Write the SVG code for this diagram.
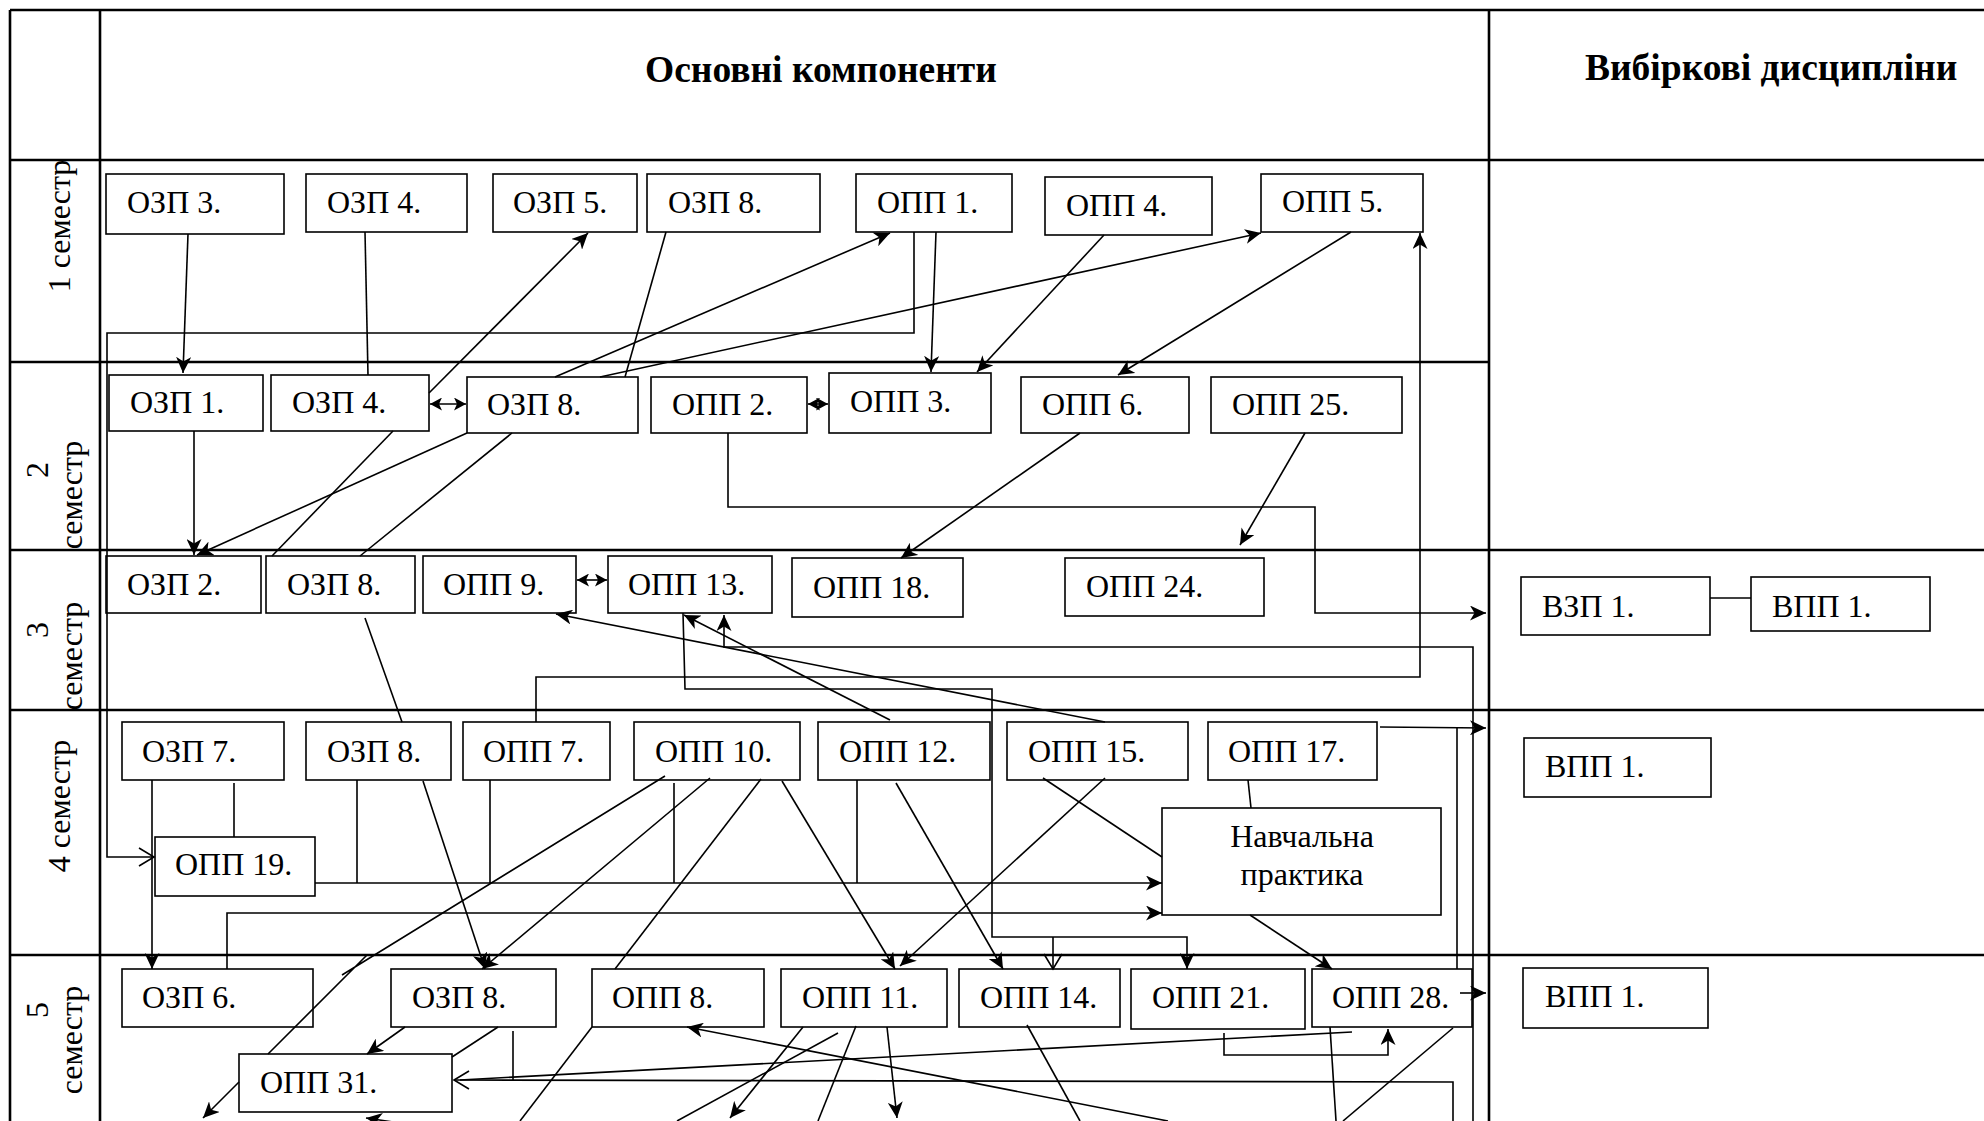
<svg xmlns="http://www.w3.org/2000/svg" width="1984" height="1121" viewBox="0 0 1984 1121">
<style>
.box{fill:#fff;stroke:#000;stroke-width:1.6}
.t{font-family:"Liberation Serif","Times New Roman",serif;font-size:32px;fill:#000}
.h{font-family:"Liberation Serif","Times New Roman",serif;font-size:37.5px;font-weight:bold;fill:#000}
.c{fill:none;stroke:#000;stroke-width:1.6}
.g{fill:none;stroke:#000;stroke-width:2.6}
</style>
<defs>
<marker id="a" markerUnits="userSpaceOnUse" markerWidth="17" markerHeight="15" refX="16" refY="7.5" orient="auto-start-reverse">
<path d="M0,0 L16,7.5 L0,15 L4.5,7.5 z" fill="#000"/>
</marker>
<marker id="s" markerUnits="userSpaceOnUse" markerWidth="13" markerHeight="13" refX="12" refY="6.5" orient="auto-start-reverse">
<path d="M0,0 L12,6.5 L0,13 L3,6.5 z" fill="#000"/>
</marker>
<marker id="o" markerUnits="userSpaceOnUse" markerWidth="18" markerHeight="20" refX="16" refY="10" orient="auto">
<path d="M1,1 L16,10 L1,19" fill="none" stroke="#000" stroke-width="1.6"/>
</marker>
</defs>
<rect width="1984" height="1121" fill="#fff"/>
<g id="grid">
<path class="g" d="M10,10 H1984 M10,160 H1984 M10,362 H1489 M10,550 H1984 M10,710 H1984 M10,955 H1984 M10,10 V1121 M100,10 V1121 M1489,10 V1121"/>
<text class="h" x="645" y="82">Основні компоненти</text>
<text class="h" x="1585" y="80">Вибіркові дисципліни</text>
<text class="t" text-anchor="middle" transform="translate(70,226) rotate(-90)">1 семестр</text>
<text class="t" text-anchor="middle" transform="translate(48,470) rotate(-90)">2</text>
<text class="t" text-anchor="middle" transform="translate(82,495) rotate(-90)">семестр</text>
<text class="t" text-anchor="middle" transform="translate(48,630) rotate(-90)">3</text>
<text class="t" text-anchor="middle" transform="translate(82,656) rotate(-90)">семестр</text>
<text class="t" text-anchor="middle" transform="translate(70,806) rotate(-90)">4 семестр</text>
<text class="t" text-anchor="middle" transform="translate(48,1010) rotate(-90)">5</text>
<text class="t" text-anchor="middle" transform="translate(82,1040) rotate(-90)">семестр</text>
</g>
<g id="nodes">
<g id="ozp3_1"><rect class="box" x="106" y="174" width="178" height="60"/><text class="t" x="127" y="213">ОЗП 3.</text></g>
<g id="ozp4_1"><rect class="box" x="306" y="174" width="161" height="58"/><text class="t" x="327" y="213">ОЗП 4.</text></g>
<g id="ozp5_1"><rect class="box" x="493" y="174" width="144" height="58"/><text class="t" x="513" y="213">ОЗП 5.</text></g>
<g id="ozp8_1"><rect class="box" x="647" y="174" width="173" height="58"/><text class="t" x="668" y="213">ОЗП 8.</text></g>
<g id="opp1_1"><rect class="box" x="856" y="174" width="156" height="58"/><text class="t" x="877" y="213">ОПП 1.</text></g>
<g id="opp4_1"><rect class="box" x="1045" y="177" width="167" height="58"/><text class="t" x="1066" y="216">ОПП 4.</text></g>
<g id="opp5_1"><rect class="box" x="1261" y="174" width="162" height="58"/><text class="t" x="1282" y="212">ОПП 5.</text></g>

<g id="ozp1_2"><rect class="box" x="109" y="375" width="154" height="56"/><text class="t" x="130" y="413">ОЗП 1.</text></g>
<g id="ozp4_2"><rect class="box" x="271" y="375" width="158" height="56"/><text class="t" x="292" y="413">ОЗП 4.</text></g>
<g id="ozp8_2"><rect class="box" x="467" y="377" width="171" height="56"/><text class="t" x="487" y="415">ОЗП 8.</text></g>
<g id="opp2_2"><rect class="box" x="651" y="377" width="156" height="56"/><text class="t" x="672" y="415">ОПП 2.</text></g>
<g id="opp3_2"><rect class="box" x="829" y="373" width="162" height="60"/><text class="t" x="850" y="412">ОПП 3.</text></g>
<g id="opp6_2"><rect class="box" x="1021" y="377" width="168" height="56"/><text class="t" x="1042" y="415">ОПП 6.</text></g>
<g id="opp25_2"><rect class="box" x="1211" y="377" width="191" height="56"/><text class="t" x="1232" y="415">ОПП 25.</text></g>

<g id="ozp2_3"><rect class="box" x="106" y="556" width="155" height="57"/><text class="t" x="127" y="595">ОЗП 2.</text></g>
<g id="ozp8_3"><rect class="box" x="266" y="556" width="149" height="57"/><text class="t" x="287" y="595">ОЗП 8.</text></g>
<g id="opp9_3"><rect class="box" x="423" y="556" width="153" height="57"/><text class="t" x="443" y="595">ОПП 9.</text></g>
<g id="opp13_3"><rect class="box" x="608" y="556" width="164" height="57"/><text class="t" x="628" y="595">ОПП 13.</text></g>
<g id="opp18_3"><rect class="box" x="792" y="558" width="171" height="59"/><text class="t" x="813" y="598">ОПП 18.</text></g>
<g id="opp24_3"><rect class="box" x="1065" y="558" width="199" height="58"/><text class="t" x="1086" y="597">ОПП 24.</text></g>
<g id="vzp1_3"><rect class="box" x="1521" y="577" width="189" height="58"/><text class="t" x="1542" y="617">ВЗП 1.</text></g>
<g id="vpp1_3"><rect class="box" x="1751" y="577" width="179" height="54"/><text class="t" x="1772" y="617">ВПП 1.</text></g>

<g id="ozp7_4"><rect class="box" x="122" y="722" width="162" height="58"/><text class="t" x="142" y="762">ОЗП 7.</text></g>
<g id="ozp8_4"><rect class="box" x="306" y="722" width="145" height="58"/><text class="t" x="327" y="762">ОЗП 8.</text></g>
<g id="opp7_4"><rect class="box" x="463" y="722" width="147" height="58"/><text class="t" x="483" y="762">ОПП 7.</text></g>
<g id="opp10_4"><rect class="box" x="634" y="722" width="166" height="58"/><text class="t" x="655" y="762">ОПП 10.</text></g>
<g id="opp12_4"><rect class="box" x="818" y="722" width="172" height="58"/><text class="t" x="839" y="762">ОПП 12.</text></g>
<g id="opp15_4"><rect class="box" x="1007" y="722" width="181" height="58"/><text class="t" x="1028" y="762">ОПП 15.</text></g>
<g id="opp17_4"><rect class="box" x="1208" y="722" width="169" height="58"/><text class="t" x="1228" y="762">ОПП 17.</text></g>
<g id="opp19_4"><rect class="box" x="155" y="837" width="160" height="59"/><text class="t" x="175" y="875">ОПП 19.</text></g>
<g id="nav_4"><rect class="box" x="1162" y="808" width="279" height="107"/><text class="t" x="1302" y="847" text-anchor="middle">Навчальна</text><text class="t" x="1302" y="885" text-anchor="middle">практика</text></g>
<g id="vpp1_4"><rect class="box" x="1524" y="738" width="187" height="59"/><text class="t" x="1545" y="777">ВПП 1.</text></g>

<g id="ozp6_5"><rect class="box" x="122" y="969" width="191" height="58"/><text class="t" x="142" y="1008">ОЗП 6.</text></g>
<g id="ozp8_5"><rect class="box" x="391" y="969" width="165" height="58"/><text class="t" x="412" y="1008">ОЗП 8.</text></g>
<g id="opp31_5"><rect class="box" x="239" y="1054" width="213" height="58"/><text class="t" x="260" y="1093">ОПП 31.</text></g>
<g id="opp8_5"><rect class="box" x="592" y="969" width="172" height="58"/><text class="t" x="612" y="1008">ОПП 8.</text></g>
<g id="opp11_5"><rect class="box" x="781" y="969" width="166" height="58"/><text class="t" x="802" y="1008">ОПП 11.</text></g>
<g id="opp14_5"><rect class="box" x="959" y="969" width="161" height="58"/><text class="t" x="980" y="1008">ОПП 14.</text></g>
<g id="opp21_5"><rect class="box" x="1131" y="969" width="174" height="60"/><text class="t" x="1152" y="1008">ОПП 21.</text></g>
<g id="opp28_5"><rect class="box" x="1312" y="969" width="160" height="58"/><text class="t" x="1332" y="1008">ОПП 28.</text></g>
<g id="vpp1_5"><rect class="box" x="1523" y="968" width="185" height="60"/><text class="t" x="1545" y="1007">ВПП 1.</text></g>
</g>
<g id="connectors">
<path class="c" d="M1710,598 L1751,598"/>
<path class="c" d="M188,234 L183,373" marker-end="url(#a)"/>
<path class="c" d="M365,232 L368,375"/>
<path class="c" d="M429,393 L588,233" marker-end="url(#a)"/>
<path class="c" d="M666,232 L625,377"/>
<path class="c" d="M555,377 L890,233" marker-end="url(#a)"/>
<path class="c" d="M600,377 L1261,233" marker-end="url(#a)"/>
<path class="c" d="M936,232 L931,372" marker-end="url(#a)"/>
<path class="c" d="M914,232 L914,333 L107,333 L107,857 L154,857" marker-end="url(#o)"/>
<path class="c" d="M1104,235 L977,372" marker-end="url(#a)"/>
<path class="c" d="M1351,232 L1118,375" marker-end="url(#a)"/>
<path class="c" d="M536,722 L536,677 L1420,677 L1420,233" marker-end="url(#a)"/>
<path class="c" d="M430,404 L466,404" marker-start="url(#s)" marker-end="url(#s)"/>
<path class="c" d="M808,404 L828,404" marker-start="url(#s)" marker-end="url(#s)"/>
<path class="c" d="M194,431 L194,555" marker-end="url(#a)"/>
<path class="c" d="M467,433 L197,555" marker-end="url(#a)"/>
<path class="c" d="M393,431 L272,556"/>
<path class="c" d="M512,433 L360,556"/>
<path class="c" d="M365,618 L402,722"/>
<path class="c" d="M728,433 L728,507 L1315,507 L1315,613 L1486,613" marker-end="url(#a)"/>
<path class="c" d="M1080,433 L901,558" marker-end="url(#a)"/>
<path class="c" d="M1305,433 L1240,545" marker-end="url(#a)"/>
<path class="c" d="M577,580 L607,580" marker-start="url(#s)" marker-end="url(#s)"/>
<path class="c" d="M1105,722 L556,614" marker-end="url(#a)"/>
<path class="c" d="M890,720 L684,615" marker-end="url(#a)"/>
<path class="c" d="M1473,1121 L1473,647 L724,647 L724,615" marker-end="url(#a)"/>
<path class="c" d="M683,613 L685,689 L992,689 L992,937 L1187,937 L1187,969" marker-end="url(#a)"/>
<path class="c" d="M1053,937 L1053,969" marker-end="url(#o)"/>
<path class="c" d="M152,780 L152,969" marker-end="url(#a)"/>
<path class="c" d="M234,783 L234,837"/>
<path class="c" d="M315,883 L1162,883" marker-end="url(#a)"/>
<path class="c" d="M357,780 L357,883 M490,780 L490,883 M674,783 L674,883 M857,780 L857,883"/>
<path class="c" d="M227,969 L227,913 L1162,913" marker-end="url(#a)"/>
<path class="c" d="M423,781 L485,969" marker-end="url(#a)"/>
<path class="c" d="M710,778 L482,969" marker-end="url(#a)"/>
<path class="c" d="M665,776 L342,975 M367,955 L268,1054"/>
<path class="c" d="M761,779 L615,969"/>
<path class="c" d="M782,781 L895,969" marker-end="url(#a)"/>
<path class="c" d="M1105,778 L900,966" marker-end="url(#a)"/>
<path class="c" d="M896,783 L1003,969" marker-end="url(#a)"/>
<path class="c" d="M1043,778 L1162,857"/>
<path class="c" d="M1248,780 L1251,808"/>
<path class="c" d="M1250,915 L1332,969" marker-end="url(#a)"/>
<path class="c" d="M1380,727 L1486,728" marker-end="url(#a)"/>
<path class="c" d="M1457,728 L1457,969"/>
<path class="c" d="M1460,993 L1486,993" marker-end="url(#a)"/>
<path class="c" d="M405,1027 L367,1054" marker-end="url(#a)"/>
<path class="c" d="M498,1027 L452,1057"/>
<path class="c" d="M513,1031 L513,1080"/>
<path class="c" d="M1453,1121 L1453,1082 L454,1080" marker-end="url(#o)"/>
<path class="c" d="M1352,1032 L460,1080"/>
<path class="c" d="M1224,1033 L1224,1055 L1388,1055 L1388,1029" marker-end="url(#a)"/>
<path class="c" d="M1330,1027 L1336,1121"/>
<path class="c" d="M1453,1028 L1343,1121"/>
<path class="c" d="M1027,1025 L1080,1121"/>
<path class="c" d="M1168,1121 L687,1027" marker-end="url(#a)"/>
<path class="c" d="M803,1027 L730,1118" marker-end="url(#a)"/>
<path class="c" d="M838,1033 L677,1121"/>
<path class="c" d="M856,1026 L818,1121"/>
<path class="c" d="M887,1027 L897,1118" marker-end="url(#a)"/>
<path class="c" d="M592,1027 L520,1121"/>
<path class="c" d="M239,1082 L203,1118" marker-end="url(#a)"/>
<path class="c" d="M420,1126 L366,1118" marker-end="url(#a)"/>
</g>
</svg>
